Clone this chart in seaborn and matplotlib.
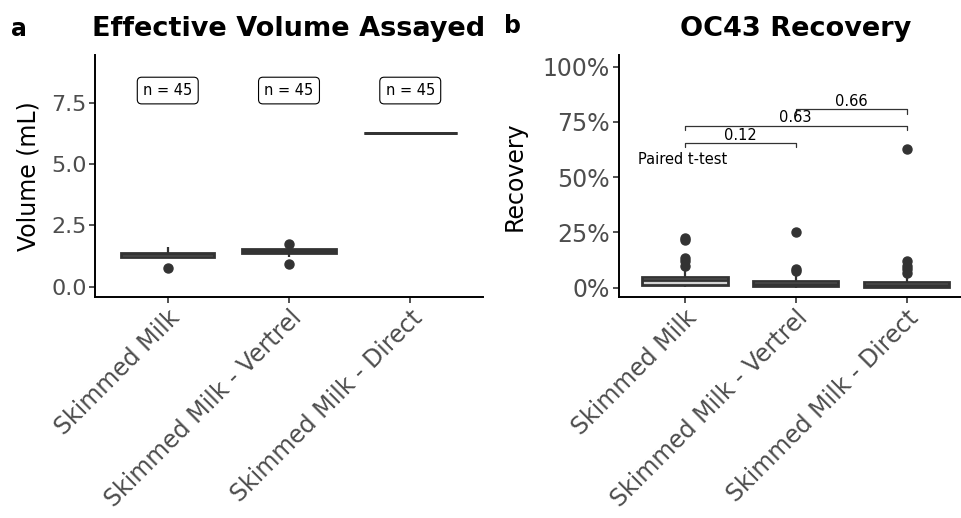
import matplotlib
matplotlib.use("Agg")
import matplotlib.pyplot as plt
import seaborn as sns
import pandas as pd
from matplotlib.ticker import FuncFormatter

# categories
groups = ["Skimmed Milk", "Skimmed Milk - Vertrel", "Skimmed Milk - Direct"]

# effective volume assayed (mL), 45 samples per group
vol_skim = [0.75,
            1.20, 1.20, 1.20, 1.20, 1.20, 1.20, 1.20, 1.20, 1.20, 1.20, 1.20,
            1.22, 1.24, 1.25, 1.26, 1.27, 1.28, 1.29, 1.30, 1.30, 1.31, 1.32,
            1.33, 1.33, 1.34, 1.35, 1.35, 1.36, 1.36, 1.37, 1.37, 1.38, 1.38,
            1.39, 1.40, 1.41, 1.42, 1.44, 1.46, 1.48, 1.50, 1.54, 1.58, 1.62]
vol_vertrel = [0.92,
               1.20, 1.25, 1.28, 1.30, 1.32, 1.33, 1.34, 1.35, 1.36, 1.37, 1.38,
               1.39, 1.40, 1.41, 1.42, 1.43, 1.43, 1.44, 1.44, 1.45, 1.45, 1.46,
               1.46, 1.47, 1.47, 1.48, 1.48, 1.49, 1.49, 1.50, 1.50, 1.51, 1.52,
               1.52, 1.52, 1.52, 1.52, 1.52, 1.52, 1.52, 1.52, 1.52, 1.52, 1.74]
vol_direct = [6.25] * 45  # every sample assayed the same volume

# OC43 recovery (%), 45 samples per group
rec_skim = [0.3, 0.5, 0.6, 0.7, 0.8, 0.9, 1.0, 1.1, 1.2, 1.3, 1.35, 1.4,
            1.6, 1.8, 2.0, 2.2, 2.4, 2.6, 2.8, 3.0, 3.2, 3.4, 3.6,
            3.7, 3.8, 3.9, 4.0, 4.1, 4.2, 4.3, 4.4, 4.5, 4.6, 4.7,
            5.0, 5.5, 6.0, 6.5, 7.0, 7.7,
            9.8, 12.0, 13.6, 21.5, 22.4]
rec_vertrel = [0.05, 0.1, 0.15, 0.2, 0.25, 0.3, 0.35, 0.4, 0.45, 0.5, 0.55, 0.6,
               0.7, 0.8, 0.9, 1.0, 1.1, 1.2, 1.3, 1.4, 1.45, 1.5, 1.55,
               1.7, 1.8, 1.9, 2.0, 2.2, 2.4, 2.6, 2.8, 2.9, 3.0, 3.2,
               3.3, 3.5, 3.7, 3.9, 4.2, 4.5, 4.9, 5.3,
               7.7, 8.5, 25.0]
rec_direct = [0.0, 0.0, 0.0, 0.0, 0.0, 0.02, 0.03, 0.05, 0.06, 0.08, 0.09, 0.1,
              0.2, 0.3, 0.4, 0.5, 0.6, 0.7, 0.8, 0.9, 1.0, 1.1, 1.2,
              1.3, 1.4, 1.5, 1.6, 1.7, 1.8, 1.9, 2.0, 2.2, 2.4, 2.5,
              2.7, 3.0, 3.3, 3.6, 4.0, 4.5,
              6.5, 8.6, 10.0, 12.3, 62.6]

# sample counts shown on panel a
n_labels = ["n = 45", "n = 45", "n = 45"]
n_label_y = 8.0

# paired t-test comparisons on panel b: (group i, group j, bracket height, p)
comparisons = [(0, 1, 65.5, "0.12"), (0, 2, 73.3, "0.63"), (1, 2, 80.8, "0.66")]

vol_df = pd.DataFrame({
    "group": [groups[0]] * len(vol_skim) + [groups[1]] * len(vol_vertrel) + [groups[2]] * len(vol_direct),
    "volume": vol_skim + vol_vertrel + vol_direct,
})
rec_df = pd.DataFrame({
    "group": [groups[0]] * len(rec_skim) + [groups[1]] * len(rec_vertrel) + [groups[2]] * len(rec_direct),
    "recovery": rec_skim + rec_vertrel + rec_direct,
})

sns.set_theme(style="ticks")
plt.rcParams["font.family"] = ["DejaVu Sans"]
plt.rcParams["text.color"] = "black"
plt.rcParams["axes.labelcolor"] = "black"

W, H = 961, 518
fig = plt.figure(figsize=(W / 100, H / 100), dpi=100)

def px_rect(x0, x1, y_top, y_bot):
    return [x0 / W, (H - y_bot) / H, (x1 - x0) / W, (y_bot - y_top) / H]

ax1 = fig.add_axes(px_rect(95, 483, 55, 297))
ax2 = fig.add_axes(px_rect(618.5, 973, 55, 297))

box_kw = dict(
    width=0.77,
    linewidth=2,
    linecolor="#333333",
    color="#d4d4d4",
    fliersize=6.5,
    flierprops=dict(marker="o", markerfacecolor="#333333", markeredgecolor="#333333"),
    whiskerprops=dict(color="#333333", linewidth=1.6),
    capprops=dict(linewidth=0),
    medianprops=dict(color="#333333", linewidth=2),
)

sns.boxplot(data=vol_df, x="group", y="volume", order=groups, ax=ax1, **box_kw)
sns.boxplot(data=rec_df, x="group", y="recovery", order=groups, ax=ax2, **box_kw)

for ax in (ax1, ax2):
    ax.set_xlim(-0.6, 2.6)
    sns.despine(ax=ax)
    for side in ("left", "bottom"):
        ax.spines[side].set_linewidth(1.4)
        ax.spines[side].set_color("black")
    ax.tick_params(axis="both", length=4, width=1.2, color="#333333",
                   labelcolor="#4d4d4d", pad=2)
    ax.set_xlabel("")
    ax.set_xticks(range(len(groups)))
    ax.set_xticklabels(groups, rotation=45, ha="right", va="top",
                       rotation_mode="anchor", fontsize=17)

# panel a
ax1.set_ylim(-0.42, 9.45)
ax1.set_yticks([0, 2.5, 5.0, 7.5])
ax1.yaxis.set_major_formatter(FuncFormatter(lambda v, p: f"{v:.1f}"))
ax1.tick_params(axis="y", labelsize=16)
ax1.set_ylabel("Volume (mL)", fontsize=17, labelpad=8)
for i, lab in enumerate(n_labels):
    ax1.text(i, n_label_y, lab, ha="center", va="center", fontsize=10.5,
             bbox=dict(boxstyle="round,pad=0.4,rounding_size=0.3", fc="white",
                       ec="black", lw=0.8))

# panel b
ax2.set_ylim(-4.2, 105.3)
ax2.set_yticks([0, 25, 50, 75, 100])
ax2.yaxis.set_major_formatter(FuncFormatter(lambda v, p: f"{v:.0f}%"))
ax2.tick_params(axis="y", labelsize=17)
ax2.set_ylabel("Recovery", fontsize=17, labelpad=12)
for i, j, h, p in comparisons:
    ax2.plot([i, i, j, j], [h - 2, h, h, h - 2], color="#333333", lw=0.9)
    ax2.text((i + j) / 2, h + 0.2, p, ha="center", va="bottom", fontsize=10.5)
ax2.text(-0.42, 58, "Paired t-test", ha="left", va="center", fontsize=10.5)

# titles and panel tags
fig.text(288.5 / W, 1 - 36.5 / H, "Effective Volume Assayed", ha="center", va="baseline",
         fontsize=19.5, fontweight="bold")
fig.text(795.5 / W, 1 - 36.5 / H, "OC43 Recovery", ha="center", va="baseline",
         fontsize=19.5, fontweight="bold")
fig.text(11 / W, 1 - 36 / H, "a", ha="left", va="baseline", fontsize=17, fontweight="bold")
fig.text(504 / W, 1 - 33 / H, "b", ha="left", va="baseline", fontsize=17, fontweight="bold")

fig.savefig("out.png", dpi=100)
